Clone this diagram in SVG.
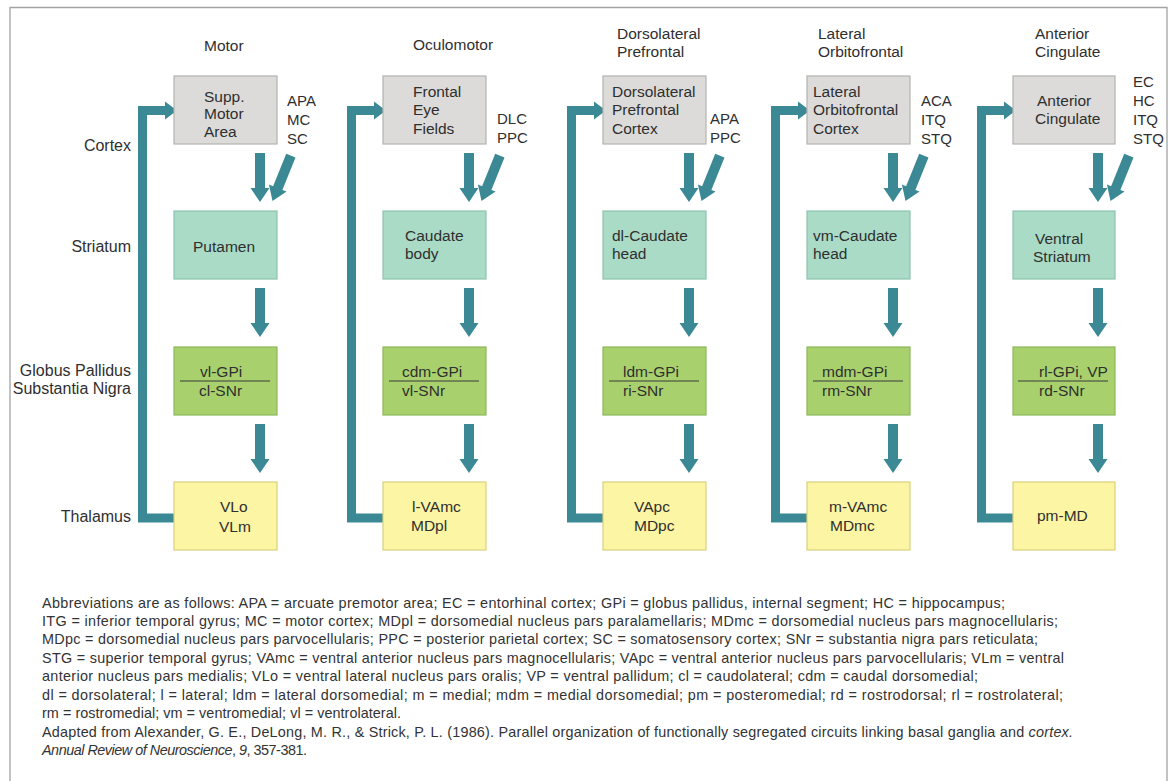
<svg xmlns="http://www.w3.org/2000/svg" width="1172" height="781" viewBox="0 0 1172 781">
<style>
text{font-family:"Liberation Sans",Arial,sans-serif;fill:#2f2f2f;font-size:15.5px}
.row{font-size:16px;text-anchor:end}
.in{font-size:15px}
.p{font-size:14.4px;fill:#333}
.it{font-style:italic}
.ctx{fill:#dcdbd9;stroke:#b2b2b0;stroke-width:1.2}
.str{fill:#a9dbc6;stroke:#8dc4ae;stroke-width:1.2}
.gp{fill:#a8d16e;stroke:#8bb75a;stroke-width:1.2}
.th{fill:#fcf5a3;stroke:#dad07e;stroke-width:1.2}
.div{stroke:#3a3a3a;stroke-width:1.2}
.loop{fill:none;stroke:#3a8995;stroke-width:9;stroke-linejoin:miter}
.ar{fill:#3a8995}
</style>
<defs>
<path id="dn" d="M-5,-49H5V-14H9.5L0,0L-9.5,-14H-5Z"/>
<path id="rt" d="M-12,-9L0,0L-12,9Z"/>
</defs>
<rect x="0" y="0" width="1172" height="781" fill="#fff"/>
<path d="M10,781V7.5H1167V781" fill="none" stroke="#a3a3a3" stroke-width="1.3"/>

<g id="row-labels">
<text class="row" x="131" y="151">Cortex</text>
<text class="row" x="131" y="252">Striatum</text>
<text class="row" x="131" y="376">Globus Pallidus</text>
<text class="row" x="131" y="394">Substantia Nigra</text>
<text class="row" x="131" y="522">Thalamus</text>
</g>

<g id="titles">
<text x="204" y="51">Motor</text>
<text x="413" y="50">Oculomotor</text>
<text x="617" y="38.5">Dorsolateral</text>
<text x="617" y="56.5">Prefrontal</text>
<text x="818" y="38.5">Lateral</text>
<text x="818" y="56.5">Orbitofrontal</text>
<text x="1035" y="38.5">Anterior</text>
<text x="1035" y="56.5">Cingulate</text>
</g>

<g id="connectors">
<path class="loop" d="M174,518H142.5V110.5H166"/>
<use href="#rt" class="ar" transform="translate(177,110.5)"/>
<path class="loop" d="M383,518H351.5V110.5H375"/>
<use href="#rt" class="ar" transform="translate(386,110.5)"/>
<path class="loop" d="M603,518H571.5V110.5H595"/>
<use href="#rt" class="ar" transform="translate(606,110.5)"/>
<path class="loop" d="M807,518H775.5V110.5H799"/>
<use href="#rt" class="ar" transform="translate(810,110.5)"/>
<path class="loop" d="M1013,518H981.5V110.5H1005"/>
<use href="#rt" class="ar" transform="translate(1016,110.5)"/>

<use href="#dn" class="ar" transform="translate(260,202)"/>
<use href="#dn" class="ar" transform="translate(272.5,201) rotate(22)"/>
<use href="#dn" class="ar" transform="translate(260,337)"/>
<use href="#dn" class="ar" transform="translate(260,473)"/>

<use href="#dn" class="ar" transform="translate(469,202)"/>
<use href="#dn" class="ar" transform="translate(481.5,201) rotate(22)"/>
<use href="#dn" class="ar" transform="translate(469,337)"/>
<use href="#dn" class="ar" transform="translate(469,473)"/>

<use href="#dn" class="ar" transform="translate(689,202)"/>
<use href="#dn" class="ar" transform="translate(701.5,201) rotate(22)"/>
<use href="#dn" class="ar" transform="translate(689,337)"/>
<use href="#dn" class="ar" transform="translate(689,473)"/>

<use href="#dn" class="ar" transform="translate(893,202)"/>
<use href="#dn" class="ar" transform="translate(905.5,201) rotate(22)"/>
<use href="#dn" class="ar" transform="translate(893,337)"/>
<use href="#dn" class="ar" transform="translate(893,473)"/>

<use href="#dn" class="ar" transform="translate(1098,202)"/>
<use href="#dn" class="ar" transform="translate(1110.5,201) rotate(22)"/>
<use href="#dn" class="ar" transform="translate(1098,337)"/>
<use href="#dn" class="ar" transform="translate(1098,473)"/>
</g>

<!-- Column 1: Motor -->
<g id="motor-cortex">
<rect class="ctx" x="174" y="76" width="103" height="68"/>
<text x="204" y="101.5">Supp.</text>
<text x="204" y="119">Motor</text>
<text x="204" y="136.5">Area</text>
</g>
<g id="motor-inputs">
<text class="in" x="287" y="106">APA</text>
<text class="in" x="287" y="125">MC</text>
<text class="in" x="287" y="144">SC</text>
</g>
<g id="motor-striatum">
<rect class="str" x="174" y="211" width="103" height="68"/>
<text x="193" y="251.5">Putamen</text>
</g>
<g id="motor-gp">
<rect class="gp" x="174" y="347" width="103" height="68"/>
<line class="div" x1="180" y1="381" x2="270" y2="381"/>
<text x="200" y="377">vl-GPi</text>
<text x="199" y="396">cl-SNr</text>
</g>
<g id="motor-thalamus">
<rect class="th" x="174" y="482" width="103" height="68"/>
<text x="220" y="512">VLo</text>
<text x="219" y="532">VLm</text>
</g>

<!-- Column 2: Oculomotor -->
<g id="oculo-cortex">
<rect class="ctx" x="383" y="76" width="103" height="68"/>
<text x="413" y="96.5">Frontal</text>
<text x="413" y="115">Eye</text>
<text x="413" y="133.5">Fields</text>
</g>
<g id="oculo-inputs">
<text class="in" x="497" y="124">DLC</text>
<text class="in" x="497" y="143">PPC</text>
</g>
<g id="oculo-striatum">
<rect class="str" x="383" y="211" width="103" height="68"/>
<text x="405" y="241">Caudate</text>
<text x="405" y="259">body</text>
</g>
<g id="oculo-gp">
<rect class="gp" x="383" y="347" width="103" height="68"/>
<line class="div" x1="389" y1="381" x2="479" y2="381"/>
<text x="402" y="377">cdm-GPi</text>
<text x="402" y="396">vl-SNr</text>
</g>
<g id="oculo-thalamus">
<rect class="th" x="383" y="482" width="103" height="68"/>
<text x="412" y="511.5">l-VAmc</text>
<text x="411" y="531">MDpl</text>
</g>

<!-- Column 3: Dorsolateral Prefrontal -->
<g id="dlpf-cortex">
<rect class="ctx" x="603" y="76" width="103" height="68"/>
<text x="612" y="96.5">Dorsolateral</text>
<text x="612" y="115">Prefrontal</text>
<text x="612" y="134">Cortex</text>
</g>
<g id="dlpf-inputs">
<text class="in" x="710" y="124">APA</text>
<text class="in" x="710" y="143">PPC</text>
</g>
<g id="dlpf-striatum">
<rect class="str" x="603" y="211" width="103" height="68"/>
<text x="612" y="241">dl-Caudate</text>
<text x="612" y="259">head</text>
</g>
<g id="dlpf-gp">
<rect class="gp" x="603" y="347" width="103" height="68"/>
<line class="div" x1="609" y1="381" x2="699" y2="381"/>
<text x="623" y="377">ldm-GPi</text>
<text x="623" y="396">ri-SNr</text>
</g>
<g id="dlpf-thalamus">
<rect class="th" x="603" y="482" width="103" height="68"/>
<text x="634" y="511.5">VApc</text>
<text x="634" y="531">MDpc</text>
</g>

<!-- Column 4: Lateral Orbitofrontal -->
<g id="lof-cortex">
<rect class="ctx" x="807" y="76" width="103" height="68"/>
<text x="813" y="96.5">Lateral</text>
<text x="813" y="115">Orbitofrontal</text>
<text x="813" y="134">Cortex</text>
</g>
<g id="lof-inputs">
<text class="in" x="921" y="106">ACA</text>
<text class="in" x="921" y="125">ITQ</text>
<text class="in" x="921" y="144">STQ</text>
</g>
<g id="lof-striatum">
<rect class="str" x="807" y="211" width="103" height="68"/>
<text x="813" y="241">vm-Caudate</text>
<text x="813" y="259">head</text>
</g>
<g id="lof-gp">
<rect class="gp" x="807" y="347" width="103" height="68"/>
<line class="div" x1="813" y1="381" x2="903" y2="381"/>
<text x="822" y="377">mdm-GPi</text>
<text x="822" y="396">rm-SNr</text>
</g>
<g id="lof-thalamus">
<rect class="th" x="807" y="482" width="103" height="68"/>
<text x="829" y="511.5">m-VAmc</text>
<text x="830" y="531">MDmc</text>
</g>

<!-- Column 5: Anterior Cingulate -->
<g id="ac-cortex">
<rect class="ctx" x="1013" y="76" width="102" height="68"/>
<text x="1037" y="106">Anterior</text>
<text x="1035" y="124">Cingulate</text>
</g>
<g id="ac-inputs">
<text class="in" x="1133" y="86.5">EC</text>
<text class="in" x="1133" y="106">HC</text>
<text class="in" x="1133" y="125">ITQ</text>
<text class="in" x="1133" y="144">STQ</text>
</g>
<g id="ac-striatum">
<rect class="str" x="1013" y="211" width="102" height="68"/>
<text x="1035" y="244">Ventral</text>
<text x="1033" y="262">Striatum</text>
</g>
<g id="ac-gp">
<rect class="gp" x="1013" y="347" width="102" height="68"/>
<line class="div" x1="1018" y1="381" x2="1108" y2="381"/>
<text x="1039" y="377">rl-GPi, VP</text>
<text x="1039" y="396">rd-SNr</text>
</g>
<g id="ac-thalamus">
<rect class="th" x="1013" y="482" width="102" height="68"/>
<text x="1037" y="521">pm-MD</text>
</g>

<g id="legend">
<text class="p" x="42" y="607.5" textLength="963">Abbreviations are as follows: APA = arcuate premotor area; EC = entorhinal cortex; GPi = globus pallidus, internal segment; HC = hippocampus;</text>
<text class="p" x="42" y="626" textLength="1016">ITG = inferior temporal gyrus; MC = motor cortex; MDpl = dorsomedial nucleus pars paralamellaris; MDmc = dorsomedial nucleus pars magnocellularis;</text>
<text class="p" x="42" y="644.4" textLength="996">MDpc = dorsomedial nucleus pars parvocellularis; PPC = posterior parietal cortex; SC = somatosensory cortex; SNr = substantia nigra pars reticulata;</text>
<text class="p" x="42" y="662.8" textLength="1022">STG = superior temporal gyrus; VAmc = ventral anterior nucleus pars magnocellularis; VApc = ventral anterior nucleus pars parvocellularis; VLm = ventral</text>
<text class="p" x="42" y="681.3" textLength="936">anterior nucleus pars medialis; VLo = ventral lateral nucleus pars oralis; VP = ventral pallidum; cl = caudolateral; cdm = caudal dorsomedial;</text>
<text class="p" x="42" y="699.7" textLength="1021">dl = dorsolateral; l = lateral; ldm = lateral dorsomedial; m = medial; mdm = medial dorsomedial; pm = posteromedial; rd = rostrodorsal; rl = rostrolateral;</text>
<text class="p" x="42" y="718.1" textLength="359">rm = rostromedial; vm = ventromedial; vl = ventrolateral.</text>
<text class="p" x="42" y="736.6" textLength="1031">Adapted from Alexander, G. E., DeLong, M. R., &amp; Strick, P. L. (1986). Parallel organization of functionally segregated circuits linking basal ganglia and <tspan class="it">cortex.</tspan></text>
<text class="p" x="42" y="755" textLength="265"><tspan class="it">Annual Review of Neuroscience</tspan>, <tspan class="it">9</tspan>, 357-381.</text>
</g>
</svg>
